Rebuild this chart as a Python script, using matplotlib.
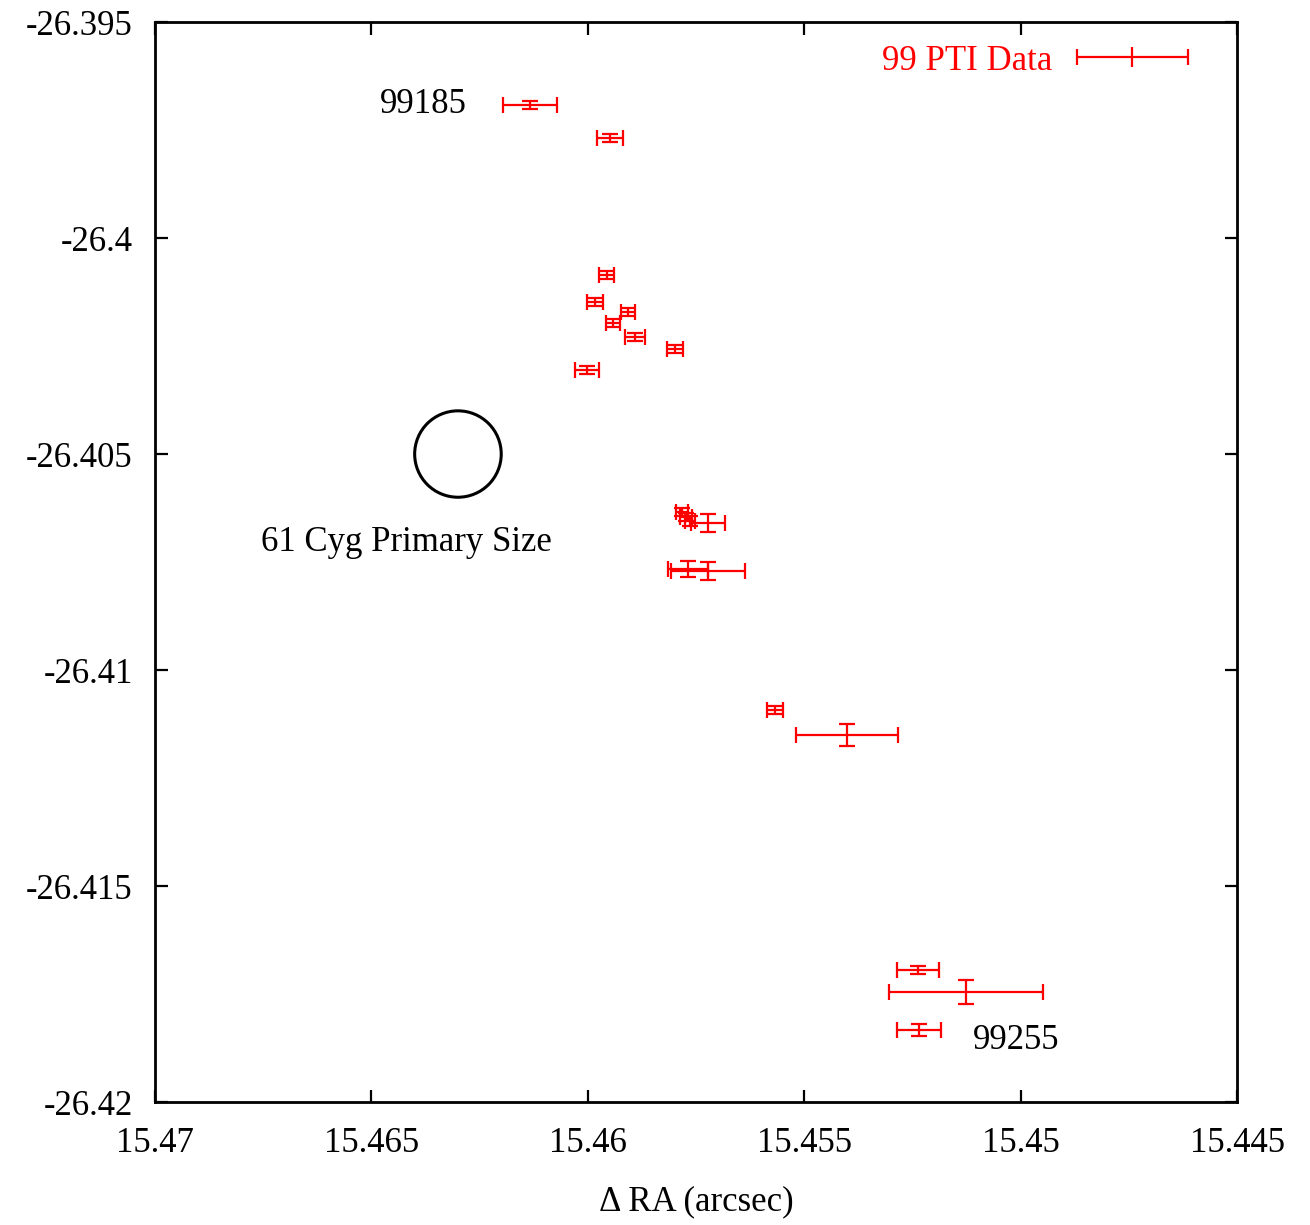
import matplotlib
matplotlib.use("Agg")
import numpy as np
import matplotlib.pyplot as plt
from matplotlib.patches import Circle
from matplotlib.lines import Line2D
from matplotlib.container import ErrorbarContainer
from matplotlib.legend_handler import HandlerErrorbar, HandlerTuple
from matplotlib.ticker import FuncFormatter, MultipleLocator

plt.rcParams["font.family"] = ["Liberation Serif", "DejaVu Serif"]

# PTI astrometry points (delta RA, delta Dec) with errors, arcsec
ra = [15.46134, 15.45949, 15.45956, 15.45983, 15.45907, 15.45942, 15.45891,
      15.45799, 15.46002, 15.45782, 15.45773, 15.45764, 15.45722, 15.45768,
      15.45722, 15.45567, 15.45401, 15.45237, 15.45126, 15.45235]
dec = [-26.39692, -26.39769, -26.40086, -26.40148, -26.40171, -26.40197,
       -26.40229, -26.40257, -26.40306, -26.40634, -26.40646, -26.40655,
       -26.40660, -26.40766, -26.40771, -26.41093, -26.41150, -26.41694,
       -26.41745, -26.41833]
ra_err = [0.00062, 0.00030, 0.00017, 0.00018, 0.00017, 0.00017, 0.00023,
          0.00019, 0.00028, 0.00014, 0.00014, 0.00012, 0.00039, 0.00046,
          0.00085, 0.00018, 0.00118, 0.00049, 0.00178, 0.00051]
dec_err = [0.00009, 0.00009, 0.00009, 0.00009, 0.00009, 0.00009, 0.00009,
           0.00009, 0.00009, 0.00009, 0.00009, 0.00012, 0.00021, 0.00019,
           0.00021, 0.00009, 0.00025, 0.00009, 0.00028, 0.00014]

primary_center = (15.463, -26.405)
primary_radius = 0.001

FS = 25

fig = plt.figure(figsize=(13.1, 12.25), dpi=100)
ax = fig.add_axes([0.1183, 0.1004, 0.826, 0.8816])

ax.errorbar(ra, dec, xerr=ra_err, yerr=dec_err, fmt="none", ecolor="red",
            elinewidth=1.6, capsize=5.8, capthick=1.6)

ax.add_patch(Circle(primary_center, primary_radius, fill=False,
                    edgecolor="black", linewidth=2.2))

ax.text(15.4628, -26.39692, "99185", fontsize=FS, ha="right", va="center")
ax.text(15.4642, -26.40705, "61 Cyg Primary Size", fontsize=FS,
        ha="center", va="center")
ax.text(15.4511, -26.41857, "99255", fontsize=FS, ha="left", va="center")

ax.set_xlim(15.47, 15.445)
ax.set_ylim(-26.42, -26.395)
ax.xaxis.set_major_locator(MultipleLocator(0.005))
ax.yaxis.set_major_locator(MultipleLocator(0.005))
fmt = FuncFormatter(lambda v, p: f"{round(v, 4):g}")
ax.xaxis.set_major_formatter(fmt)
ax.yaxis.set_major_formatter(fmt)
ax.tick_params(direction="in", length=9, width=1.6, labelsize=FS,
               top=True, right=True)
ax.tick_params(axis="x", pad=18)
ax.tick_params(axis="y", pad=16)
for s in ax.spines.values():
    s.set_linewidth(2)

ax.set_xlabel("Δ RA (arcsec)", fontsize=FS, labelpad=18)

# legend key: x error bar with a centre tick
proxy_eb = ax.errorbar([np.nan], [np.nan], xerr=[0], fmt="none", ecolor="red",
                       elinewidth=1.6, capsize=5.8, capthick=1.6)
tick = Line2D([], [], color="red", ls="none", marker="|", ms=15, mew=1.6)
ax.legend(handles=[(proxy_eb, tick)], labels=["99 PTI Data"],
          handler_map={ErrorbarContainer: HandlerErrorbar(xerr_size=1.6),
                       tuple: HandlerTuple(ndivide=1)},
          loc="upper right", bbox_to_anchor=(0.98, 1.0),
          markerfirst=False, frameon=False, fontsize=FS,
          labelcolor="red", handlelength=3.5, handletextpad=0.55,
          borderaxespad=0.25)

fig.savefig("out.png", dpi=100)
